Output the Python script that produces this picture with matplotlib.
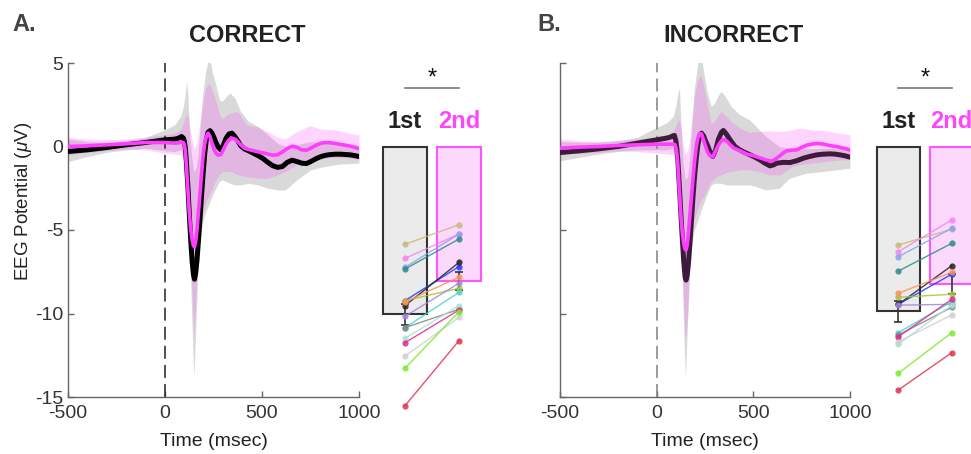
import numpy as np
import matplotlib
matplotlib.use("Agg")
import matplotlib.pyplot as plt

plt.rcParams['font.family'] = ['Liberation Sans', 'DejaVu Sans']
plt.rcParams['mathtext.fontset'] = 'custom'
plt.rcParams['mathtext.rm'] = 'Liberation Sans'
plt.rcParams['mathtext.it'] = 'Liberation Sans:italic'
plt.rcParams['axes.unicode_minus'] = False

# ---------------- data ----------------
# grand-average ERPs (time ms, potential uV)
erp_correct_first = [(-500,-0.30),(-450,-0.25),(-400,-0.20),(-350,-0.13),(-300,-0.06),(-250,0.02),(-200,0.10),(-150,0.17),(-100,0.24),(-50,0.32),(0,0.40),(25,0.42),(50,0.44),(70,0.50),(85,0.60),(95,0.50),(100,0.30),(105,-0.10),(110,-0.90),(118,-2.40),(125,-4.00),(132,-5.50),(140,-6.90),(147,-7.70),(152,-7.95),(158,-7.60),(165,-6.80),(172,-5.70),(180,-4.40),(188,-3.00),(196,-1.70),(205,-0.40),(213,0.40),(222,0.85),(232,0.95),(242,0.80),(252,0.55),(262,0.25),(275,-0.05),(288,-0.20),(300,0.05),(315,0.50),(330,0.75),(345,0.80),(360,0.60),(375,0.35),(390,0.05),(410,-0.15),(430,-0.25),(455,-0.40),(480,-0.55),(505,-0.72),(530,-0.95),(555,-1.15),(580,-1.25),(605,-1.20),(630,-0.95),(655,-0.82),(680,-0.90),(705,-1.00),(730,-1.02),(755,-0.88),(780,-0.72),(805,-0.60),(830,-0.52),(855,-0.48),(880,-0.46),(905,-0.46),(930,-0.48),(955,-0.50),(980,-0.55),(1000,-0.60)]
erp_correct_second = [(-500,0.00),(-450,0.02),(-400,0.04),(-350,0.07),(-300,0.10),(-250,0.13),(-200,0.16),(-150,0.20),(-100,0.24),(-50,0.24),(0,0.24),(25,0.22),(50,0.20),(70,0.22),(85,0.26),(95,0.22),(100,0.10),(105,-0.30),(110,-1.10),(118,-2.60),(125,-3.90),(132,-4.90),(140,-5.60),(147,-5.95),(152,-6.00),(158,-5.70),(165,-5.00),(172,-4.00),(180,-2.90),(188,-1.70),(196,-0.60),(205,0.20),(213,0.60),(222,0.80),(232,0.60),(242,0.20),(252,-0.15),(262,-0.40),(275,-0.52),(288,-0.48),(300,-0.20),(315,0.15),(330,0.40),(345,0.50),(360,0.45),(375,0.30),(390,0.10),(410,-0.10),(430,-0.18),(455,-0.25),(480,-0.32),(505,-0.38),(530,-0.45),(555,-0.52),(580,-0.50),(605,-0.33),(630,-0.12),(655,0.02),(680,-0.05),(705,-0.20),(730,-0.22),(755,-0.08),(780,0.08),(805,0.20),(830,0.24),(855,0.22),(880,0.18),(905,0.12),(930,0.08),(955,0.02),(980,-0.05),(1000,-0.12)]
erp_incorrect_first = [(-500,-0.36),(-450,-0.31),(-400,-0.26),(-350,-0.20),(-300,-0.14),(-250,-0.07),(-200,0.00),(-150,0.10),(-100,0.20),(-50,0.30),(0,0.40),(25,0.45),(50,0.50),(70,0.56),(85,0.64),(92,0.66),(100,0.30),(105,-0.20),(110,-0.90),(118,-2.50),(125,-4.00),(132,-5.40),(140,-6.90),(147,-7.80),(152,-8.00),(158,-7.70),(165,-6.90),(172,-5.80),(180,-4.40),(188,-3.00),(196,-1.80),(205,-0.70),(213,0.10),(222,0.60),(232,0.80),(242,0.65),(252,0.35),(262,0.10),(275,-0.30),(290,-0.60),(305,-0.20),(320,0.45),(335,0.85),(345,0.96),(360,0.75),(380,0.40),(405,0.00),(430,-0.20),(455,-0.35),(483,-0.50),(510,-0.65),(534,-0.80),(560,-1.00),(586,-1.16),(605,-1.10),(621,-1.00),(655,-0.95),(690,-0.96),(725,-0.85),(759,-0.70),(790,-0.60),(828,-0.50),(860,-0.46),(897,-0.44),(925,-0.46),(948,-0.50),(975,-0.56),(1000,-0.64)]
erp_incorrect_second = [(-500,-0.10),(-450,-0.07),(-400,-0.04),(-350,-0.02),(-300,0.00),(-250,0.03),(-200,0.06),(-150,0.08),(-100,0.10),(-50,0.12),(0,0.14),(25,0.14),(50,0.14),(70,0.14),(85,0.14),(95,0.10),(100,-0.10),(105,-0.50),(110,-1.20),(118,-2.80),(125,-4.10),(132,-5.10),(140,-5.80),(147,-6.15),(152,-6.20),(158,-5.90),(165,-5.10),(172,-4.10),(180,-3.00),(188,-1.90),(196,-0.90),(205,0.00),(213,0.50),(222,0.78),(232,0.75),(242,0.40),(252,0.05),(262,-0.30),(275,-0.55),(290,-0.62),(305,-0.25),(320,0.10),(335,0.35),(350,0.42),(365,0.30),(380,0.10),(400,-0.10),(430,-0.25),(466,-0.45),(500,-0.55),(534,-0.68),(565,-0.80),(595,-0.88),(615,-0.75),(638,-0.55),(655,-0.38),(672,-0.26),(700,-0.22),(724,-0.20),(750,-0.05),(776,0.08),(800,0.14),(828,0.18),(860,0.15),(897,0.05),(930,0.00),(965,-0.10),(1000,-0.20)]

# error bands (time, lower, upper)
band_correct_first = [(-500,-0.90,0.45),(-400,-0.60,0.30),(-300,-0.35,0.25),(-200,-0.20,0.35),(-100,-0.10,0.55),(0,-0.25,1.00),(50,-0.30,1.30),(80,-0.20,1.80),(95,-0.40,2.40),(105,-0.90,3.20),(112,-1.80,3.90),(118,-3.00,3.00),(125,-5.50,1.20),(135,-9.00,-0.30),(148,-13.90,-1.50),(160,-10.50,-1.30),(170,-7.00,-0.50),(180,-5.50,1.00),(195,-4.50,3.20),(210,-3.90,4.50),(222,-3.60,5.10),(232,-3.30,5.20),(245,-2.90,4.40),(262,-2.50,3.70),(280,-2.10,2.80),(295,-2.00,2.70),(315,-2.10,3.00),(335,-2.20,3.20),(360,-2.30,2.90),(390,-2.30,2.10),(430,-2.20,1.50),(480,-2.30,1.20),(530,-2.50,0.70),(580,-2.60,0.20),(620,-2.60,0.00),(680,-2.00,0.10),(750,-1.40,0.30),(820,-1.20,0.25),(900,-1.05,0.15),(1000,-1.00,-0.10)]
band_correct_second = [(-500,-0.50,0.55),(-400,-0.35,0.45),(-300,-0.25,0.40),(-200,-0.15,0.45),(-100,-0.20,0.55),(0,-0.40,0.70),(50,-0.45,0.80),(80,-0.50,1.00),(95,-0.70,1.40),(105,-1.20,1.80),(115,-2.50,1.90),(122,-4.00,1.70),(130,-6.50,1.00),(140,-9.00,0.40),(148,-11.30,-0.10),(158,-9.50,0.00),(168,-7.00,0.50),(180,-5.00,1.50),(195,-4.00,2.60),(210,-3.30,3.50),(225,-3.00,3.80),(240,-2.60,3.50),(262,-2.00,2.70),(285,-1.60,1.80),(300,-1.50,1.70),(320,-1.50,1.90),(340,-1.50,2.00),(375,-1.70,2.10),(420,-1.80,1.30),(480,-1.90,1.15),(530,-1.90,0.90),(580,-1.70,0.55),(620,-1.50,0.45),(680,-1.10,0.90),(747,-0.80,1.25),(800,-0.70,1.05),(870,-0.65,1.00),(950,-0.70,0.80),(1000,-0.75,0.70)]
band_incorrect_first = [(-500,-0.85,0.30),(-400,-0.65,0.25),(-300,-0.45,0.25),(-200,-0.30,0.35),(-100,-0.20,0.55),(0,-0.20,1.15),(50,-0.20,1.40),(86,-0.10,1.80),(100,-0.40,2.50),(110,-1.00,3.20),(118,-2.00,3.50),(125,-5.00,1.50),(135,-9.00,-0.80),(148,-13.90,-2.00),(160,-10.50,-1.80),(170,-7.50,-0.80),(180,-6.00,1.00),(195,-5.00,3.50),(213,-4.40,5.00),(230,-3.80,5.40),(247,-3.30,4.20),(262,-2.80,3.20),(282,-2.30,2.40),(300,-2.20,2.60),(320,-2.20,3.10),(335,-2.20,3.30),(360,-2.30,2.90),(385,-2.30,2.40),(430,-2.30,1.90),(481,-2.30,1.60),(514,-2.40,1.20),(565,-2.60,0.60),(634,-2.50,0.00),(686,-1.90,-0.10),(771,-1.60,-0.15),(857,-1.50,-0.10),(1000,-1.30,-0.15)]
band_incorrect_second = [(-500,-0.50,0.45),(-400,-0.40,0.35),(-300,-0.35,0.30),(-200,-0.25,0.35),(-100,-0.30,0.45),(0,-0.40,0.55),(50,-0.45,0.65),(86,-0.50,0.90),(100,-0.80,1.30),(110,-1.40,1.60),(118,-2.80,1.50),(125,-4.50,1.20),(135,-8.00,0.20),(148,-11.80,-0.50),(160,-10.00,-0.30),(170,-7.50,0.30),(180,-5.50,1.50),(195,-4.30,3.00),(213,-3.70,4.00),(230,-3.20,4.30),(247,-2.90,3.40),(262,-2.50,2.50),(282,-2.10,1.40),(300,-1.90,1.50),(320,-1.75,1.90),(335,-1.70,2.10),(360,-1.55,1.80),(385,-1.50,1.50),(430,-1.40,1.10),(481,-1.40,0.85),(530,-1.50,0.90),(580,-1.70,0.95),(640,-1.70,0.90),(700,-1.20,1.00),(737,-1.10,1.10),(800,-1.00,1.00),(870,-0.90,0.95),(950,-0.80,0.80),(1000,-0.80,0.70)]

# per-subject peak amplitudes (uV): 1st vs 2nd presentation
subject_colors = ['#c9b97a', '#f585f0', '#86a4f0', '#2b8c8a', '#1a3cff', '#222222',
                  '#a9c23a', '#ff8f5a', '#a486d8', '#45d3cf', '#858585', '#a6e3d3',
                  '#df2a92', '#cfcfcf', '#7eea2a', '#e0334e']
correct_first = [-5.86, -6.70, -7.24, -7.34, -9.23, -9.53, -9.23, -9.30,
                 -10.17, -10.85, -10.85, -11.49, -11.75, -12.55, -13.28, -15.52]
correct_second = [-4.68, -5.24, -5.24, -5.54, -7.19, -6.94, -8.49, -7.83,
                  -8.19, -8.73, -9.75, -9.53, -9.79, -10.23, -9.89, -11.63]
incorrect_first = [-5.90, -6.30, -6.60, -7.46, -9.45, -9.45, -9.03, -8.79,
                   -9.50, -11.15, -11.29, -11.83, -11.39, -11.69, -13.58, -14.58]
incorrect_second = [-4.96, -4.40, -4.90, -5.80, -7.65, -7.14, -8.85, -7.54,
                    -9.45, -9.29, -9.63, -9.50, -9.15, -10.09, -11.15, -12.35]

x_ticks = [-500, 0, 500, 1000]
y_ticks = [5, 0, -5, -10, -15]
bar_labels = ['1st', '2nd']

# ---------------- figure ----------------
W, H = 971, 454
fig = plt.figure(figsize=(W / 100, H / 100), dpi=100)


def px_axes(x0, y0, x1, y1):
    return fig.add_axes([x0 / W, 1 - y1 / H, (x1 - x0) / W, (y1 - y0) / H])


MAG = '#ff3dff'
GRAY_BAND = '#d9d9d9'
AXC = '#666666'


def draw_erp(ax, first, second, band1, band2, first_color, dash_color, show_ylabels):
    b1 = np.array(band1)
    b2 = np.array(band2)
    ax.fill_between(b1[:, 0], b1[:, 1], b1[:, 2], color=GRAY_BAND, lw=0, zorder=1)
    ax.fill_between(b2[:, 0], b2[:, 1], b2[:, 2], color=MAG, alpha=0.22, lw=0, zorder=2)
    ax.axvline(0, color=dash_color, lw=1.1, linestyle=(0, (8.5, 4.0)), zorder=2.5)
    f = np.array(first)
    s = np.array(second)
    ax.plot(f[:, 0], f[:, 1], color=first_color, lw=3.6, solid_capstyle='round',
            solid_joinstyle='round', zorder=3)
    ax.plot(s[:, 0], s[:, 1], color=MAG, lw=2.6, solid_capstyle='round',
            solid_joinstyle='round', zorder=4)
    ax.set_xlim(-500, 1000)
    ax.set_ylim(-15, 5)
    ax.set_xticks(x_ticks)
    ax.set_yticks(y_ticks)
    for sp in ['top', 'right']:
        ax.spines[sp].set_visible(False)
    for sp in ['left', 'bottom']:
        ax.spines[sp].set_color(AXC)
        ax.spines[sp].set_linewidth(1.0)
    ax.tick_params(direction='in', length=4, width=1, color=AXC, labelsize=14,
                   labelcolor='#333333')
    ax.tick_params(axis='x', pad=6)
    if not show_ylabels:
        ax.set_yticklabels([])


def draw_bars(ax, first, second):
    first = np.array(first)
    second = np.array(second)
    means = [first.mean(), second.mean()]
    sems = [first.std(ddof=1) / np.sqrt(len(first)), second.std(ddof=1) / np.sqrt(len(second))]
    ax.bar([1], [means[0]], width=0.8, color='#ebebeb', edgecolor='#333333', lw=1.5, zorder=1)
    ax.bar([2], [means[1]], width=0.8, color='#fdd8fd', edgecolor='#ff55ff', lw=1.5, zorder=1)
    ax.errorbar([1, 2], means, yerr=sems, fmt='none', ecolor='#333333', elinewidth=1.2,
                capsize=3, capthick=1.2, zorder=2)
    for c, a, b in zip(subject_colors, first, second):
        ax.plot([1, 2], [a, b], color=c, lw=1.0, marker='o', ms=4.5, alpha=0.85,
                markeredgewidth=0, zorder=3, clip_on=False)
    ax.set_xlim(0.4, 2.6)
    ax.set_ylim(-15, 5)
    ax.axis('off')
    ax.text(1, 1.09, bar_labels[0], ha='center', va='baseline', fontsize=17,
            fontweight='bold', color='#222222', clip_on=False)
    ax.text(2, 1.09, bar_labels[1], ha='center', va='baseline', fontsize=17,
            fontweight='bold', color='#ff44ff', clip_on=False)
    ax.plot([1, 2], [3.52, 3.52], color='#777777', lw=1.2, clip_on=False)
    ax.text(1.5, 3.7, '*', ha='center', va='baseline', fontsize=17, color='#111111',
            clip_on=False)


axA = px_axes(68, 63, 359, 397)
axB = px_axes(560, 63, 850, 397)
draw_erp(axA, erp_correct_first, erp_correct_second, band_correct_first,
         band_correct_second, '#000000', '#222222', True)
draw_erp(axB, erp_incorrect_first, erp_incorrect_second, band_incorrect_first,
         band_incorrect_second, '#3d1b3b', '#808080', False)

insA = px_axes(372.6, 63, 491.4, 397)
insB = px_axes(866.3, 63, 983.7, 397)
draw_bars(insA, correct_first, correct_second)
draw_bars(insB, incorrect_first, incorrect_second)

# labels
fig.text(23 / W, 1 - 201 / H, 'EEG Potential ($\\mu$V)', rotation=90, ha='center',
         va='center', fontsize=13.5, color='#222222')
fig.text(213.5 / W, 1 - 441 / H, 'Time (msec)', ha='center', va='center',
         fontsize=14, color='#222222')
fig.text(705 / W, 1 - 441 / H, 'Time (msec)', ha='center', va='center',
         fontsize=14, color='#222222')

fig.text(247 / W, 1 - 42 / H, 'CORRECT', ha='center', va='baseline', fontsize=17,
         fontweight='bold', color='#222222')
fig.text(733 / W, 1 - 42 / H, 'INCORRECT', ha='center', va='baseline', fontsize=17,
         fontweight='bold', color='#222222')
fig.text(12 / W, 1 - 31 / H, 'A.', ha='left', va='baseline', fontsize=17,
         fontweight='bold', color='#444444')
fig.text(537 / W, 1 - 31 / H, 'B.', ha='left', va='baseline', fontsize=17,
         fontweight='bold', color='#444444')

fig.savefig('out.png', dpi=100)
